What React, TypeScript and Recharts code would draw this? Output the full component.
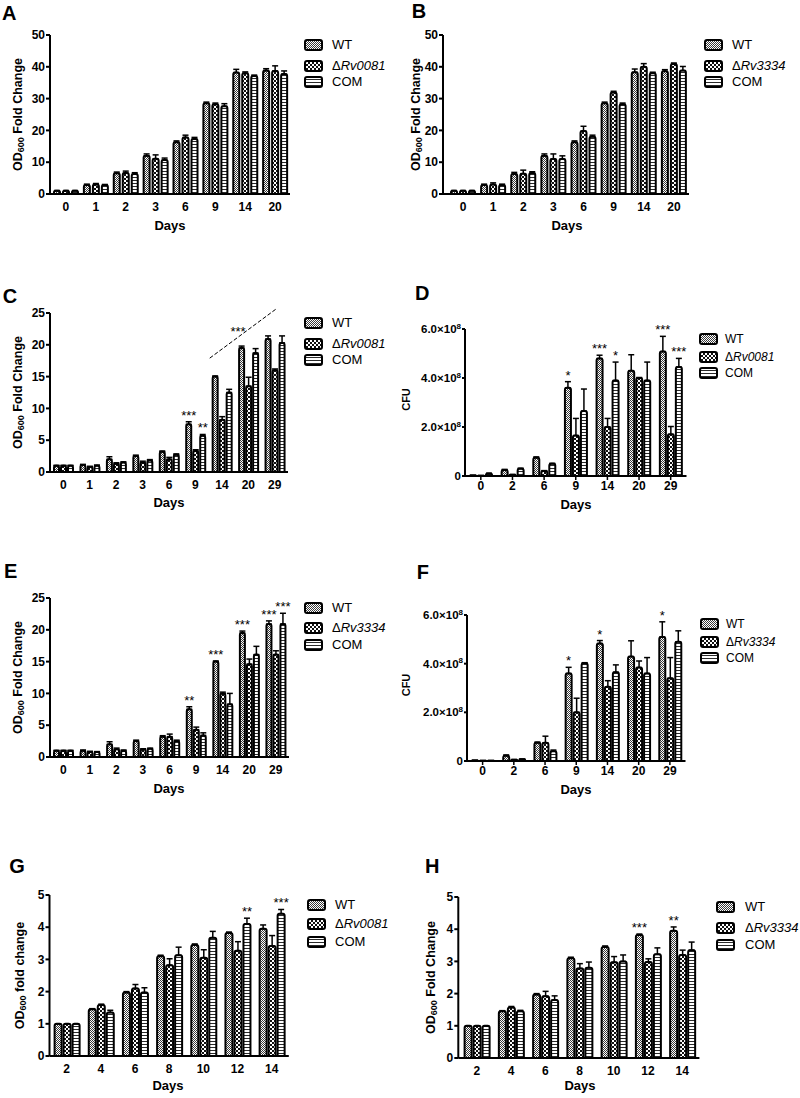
import React from 'react';
import { BarChart, Bar, XAxis, YAxis, ErrorBar, Legend, LabelList, ReferenceLine, ReferenceDot } from 'recharts';

const FONT = '"Liberation Sans", Arial, Helvetica, sans-serif';

// ---------- Panel A ----------
const daysA = ['0', '1', '2', '3', '6', '9', '14', '20'];
const aWT = [1, 2.8, 6.5, 12.0, 16.3, 28.5, 38.2, 38.8];
const aWTErr = [0.1, 0.3, 0.4, 0.6, 0.4, 0.4, 1.0, 0.6];
const aKO = [1, 3.0, 6.6, 11.1, 17.8, 28.2, 38.0, 38.7];
const aKOErr = [0.1, 0.3, 0.6, 1.2, 0.7, 0.4, 0.4, 1.6];
const aCOM = [1, 2.8, 6.3, 10.7, 17.3, 27.6, 37.1, 37.7];
const aCOMErr = [0.1, 0.2, 0.4, 0.6, 0.5, 0.8, 0.3, 1.0];

// ---------- Panel B ----------
const daysB = ['0', '1', '2', '3', '6', '9', '14', '20'];
const bWT = [1, 2.8, 6.3, 12.0, 16.3, 28.5, 38.3, 38.6];
const bWTErr = [0.1, 0.3, 0.5, 0.6, 0.4, 0.4, 1.0, 0.5];
const bKO = [1, 3.0, 6.4, 11.0, 19.8, 31.9, 40.0, 40.9];
const bKOErr = [0.1, 0.5, 1.1, 1.6, 1.5, 0.4, 1.0, 0.3];
const bCOM = [1, 2.8, 6.6, 11.0, 18.0, 28.2, 38.0, 38.8];
const bCOMErr = [0.1, 0.3, 0.4, 1.0, 0.5, 0.4, 0.3, 1.3];

// ---------- Panel C ----------
const daysC = ['0', '1', '2', '3', '6', '9', '14', '20', '29'];
const cWT = [1.0, 1.1, 2.0, 2.5, 3.2, 7.5, 15.0, 19.5, 20.9];
const cWTErr = [0.05, 0.1, 0.4, 0.15, 0.1, 0.4, 0.1, 0.3, 0.5];
const cKO = [1.0, 0.8, 1.3, 1.5, 2.0, 3.3, 8.2, 13.5, 16.0];
const cKOErr = [0.05, 0.1, 0.15, 0.2, 0.3, 0.2, 0.5, 1.4, 0.2];
const cCOM = [1.0, 1.0, 1.5, 1.8, 2.7, 5.7, 12.5, 18.7, 20.3];
const cCOMErr = [0.05, 0.1, 0.1, 0.15, 0.15, 0.2, 0.5, 0.7, 1.1];
const cAnnWT = ['', '', '', '', '', '***', '', '', ''];
const cAnnCOM = ['', '', '', '', '', '**', '', '', ''];
// dashed significance line of panel C (x in category-index units, y in fold change)
const cLineStart = { x: 6.04, y: 17.9 };
const cLineEnd = { x: 8.54, y: 25.6 };
const cLineLabel = { x: 7.11, y: 22.1, text: '***' };

// ---------- Panel D ----------
const daysD = ['0', '2', '6', '9', '14', '20', '29'];
const dWT = [0.02e8, 0.25e8, 0.75e8, 3.6e8, 4.8e8, 4.3e8, 5.08e8];
const dWTErr = [0.01e8, 0.02e8, 0.03e8, 0.25e8, 0.13e8, 0.65e8, 0.62e8];
const dKO = [0.01e8, 0.05e8, 0.2e8, 1.65e8, 2.0e8, 4.0e8, 1.7e8];
const dKOErr = [0.01e8, 0.01e8, 0.02e8, 0.7e8, 0.35e8, 0.02e8, 0.32e8];
const dCOM = [0.1e8, 0.3e8, 0.5e8, 2.65e8, 3.9e8, 3.9e8, 4.45e8];
const dCOMErr = [0.01e8, 0.02e8, 0.02e8, 0.9e8, 0.75e8, 0.75e8, 0.35e8];
const dAnnWT = ['', '', '', '*', '***', '', '***'];
const dAnnCOM = ['', '', '', '', '*', '', '***'];

// ---------- Panel E ----------
const daysE = ['0', '1', '2', '3', '6', '9', '14', '20', '29'];
const eWT = [1.0, 1.0, 2.0, 2.5, 3.2, 7.5, 15.0, 19.5, 20.9];
const eWTErr = [0.05, 0.1, 0.4, 0.15, 0.15, 0.4, 0.1, 0.3, 0.5];
const eKO = [1.0, 0.8, 1.2, 1.2, 3.2, 4.3, 10.0, 14.6, 16.1];
const eKOErr = [0.05, 0.1, 0.2, 0.1, 0.4, 0.4, 0.2, 0.8, 0.6];
const eCOM = [1.0, 0.8, 1.0, 1.3, 2.5, 3.4, 8.3, 16.1, 20.9];
const eCOMErr = [0.05, 0.05, 0.1, 0.1, 0.15, 0.4, 1.7, 1.3, 1.7];
const eAnnWT = ['', '', '', '', '', '**', '***', '***', '***'];
const eAnnCOM = ['', '', '', '', '', '', '', '', '***'];

// ---------- Panel F ----------
const daysF = ['0', '2', '6', '9', '14', '20', '29'];
const fWT = [0.02e8, 0.22e8, 0.75e8, 3.6e8, 4.83e8, 4.29e8, 5.1e8];
const fWTErr = [0.01e8, 0.03e8, 0.03e8, 0.25e8, 0.12e8, 0.65e8, 0.62e8];
const fKO = [0.01e8, 0.05e8, 0.75e8, 2.0e8, 3.05e8, 3.84e8, 3.4e8];
const fKOErr = [0.01e8, 0.01e8, 0.27e8, 0.58e8, 0.25e8, 0.27e8, 0.85e8];
const fCOM = [0.01e8, 0.07e8, 0.4e8, 4.02e8, 3.65e8, 3.6e8, 4.9e8];
const fCOMErr = [0.01e8, 0.01e8, 0.05e8, 0.02e8, 0.3e8, 0.65e8, 0.45e8];
const fAnnWT = ['', '', '', '*', '*', '', '*'];

// ---------- Panel G ----------
const daysG = ['2', '4', '6', '8', '10', '12', '14'];
const gWT = [1, 1.45, 1.97, 3.1, 3.45, 3.82, 3.95];
const gWTErr = [0, 0.02, 0.03, 0.03, 0.03, 0.03, 0.12];
const gKO = [1, 1.58, 2.1, 2.82, 3.05, 3.27, 3.42];
const gKOErr = [0, 0.03, 0.12, 0.2, 0.25, 0.28, 0.32];
const gCOM = [1, 1.35, 1.97, 3.13, 3.67, 4.1, 4.42];
const gCOMErr = [0, 0.07, 0.15, 0.25, 0.2, 0.18, 0.13];
const gAnnCOM = ['', '', '', '', '', '**', '***'];

// ---------- Panel H ----------
const daysH = ['2', '4', '6', '8', '10', '12', '14'];
const hWT = [1, 1.45, 1.97, 3.1, 3.45, 3.82, 3.95];
const hWTErr = [0, 0.02, 0.03, 0.03, 0.03, 0.03, 0.12];
const hKO = [1, 1.57, 1.92, 2.78, 2.97, 2.98, 3.2];
const hKOErr = [0, 0.03, 0.15, 0.15, 0.18, 0.1, 0.15];
const hCOM = [1, 1.45, 1.8, 2.8, 3.0, 3.22, 3.35];
const hCOMErr = [0, 0.03, 0.13, 0.18, 0.2, 0.2, 0.25];
const hAnnWT = ['', '', '', '', '', '***', '**'];

const odTicks25 = [0, 5, 10, 15, 20, 25];
const odTicks50 = [0, 10, 20, 30, 40, 50];
const odTicks5 = [0, 1, 2, 3, 4, 5];
const cfuTicks = [0, 2e8, 4e8, 6e8];

type Cfg = {
  key: string;
  left: number; top: number; width: number; height: number;
  yAxisX: number; bandStart: number; bandEnd: number; yTopPx: number; yZeroPx: number;
  domain: [number, number]; ticks: number[];
  cats: string[];
  wt: number[]; wtErr: number[]; ko: number[]; koErr: number[]; com: number[]; comErr: number[];
  annWT?: string[]; annKO?: string[]; annCOM?: string[];
  koName: string; yKind: 'od' | 'odl' | 'cfu'; yLabelX: number;
  daysX: number; daysY: number;
  legBoxX: number; legTextX: number; legRows: number[]; legFont: number;
  barSize: number; barGap: number; xTickLine: boolean;
  extraC?: boolean;
};

const panels: Cfg[] = [
  {
    key: 'A', left: 0, top: 0, width: 400, height: 240,
    yAxisX: 50, bandStart: 51, bandEnd: 290, yTopPx: 35, yZeroPx: 194,
    domain: [0, 50], ticks: odTicks50, cats: daysA,
    wt: aWT, wtErr: aWTErr, ko: aKO, koErr: aKOErr, com: aCOM, comErr: aCOMErr,
    koName: 'Rv0081', yKind: 'od', yLabelX: 18, daysX: 170, daysY: 225,
    legBoxX: 305, legTextX: 332, legRows: [45, 66, 82], legFont: 13,
    barSize: 6, barGap: 3, xTickLine: false,
  },
  {
    key: 'B', left: 400, top: 0, width: 400, height: 240,
    yAxisX: 443, bandStart: 448, bandEnd: 689, yTopPx: 35, yZeroPx: 194,
    domain: [0, 50], ticks: odTicks50, cats: daysB,
    wt: bWT, wtErr: bWTErr, ko: bKO, koErr: bKOErr, com: bCOM, comErr: bCOMErr,
    koName: 'Rv3334', yKind: 'od', yLabelX: 416, daysX: 567, daysY: 225,
    legBoxX: 705, legTextX: 732, legRows: [45, 66, 82], legFont: 13,
    barSize: 6, barGap: 3, xTickLine: false,
  },
  {
    key: 'C', left: 0, top: 270, width: 400, height: 250,
    yAxisX: 50, bandStart: 50, bandEnd: 288, yTopPx: 313, yZeroPx: 472,
    domain: [0, 25], ticks: odTicks25, cats: daysC,
    wt: cWT, wtErr: cWTErr, ko: cKO, koErr: cKOErr, com: cCOM, comErr: cCOMErr,
    annWT: cAnnWT, annCOM: cAnnCOM,
    koName: 'Rv0081', yKind: 'od', yLabelX: 18, daysX: 169, daysY: 502,
    legBoxX: 305, legTextX: 332, legRows: [323, 344, 360], legFont: 13,
    barSize: 5, barGap: 2, xTickLine: false, extraC: true,
  },
  {
    key: 'D', left: 400, top: 270, width: 400, height: 250,
    yAxisX: 465, bandStart: 465, bandEnd: 686.5, yTopPx: 329, yZeroPx: 476,
    domain: [0, 6e8], ticks: cfuTicks, cats: daysD,
    wt: dWT, wtErr: dWTErr, ko: dKO, koErr: dKOErr, com: dCOM, comErr: dCOMErr,
    annWT: dAnnWT, annCOM: dAnnCOM,
    koName: 'Rv0081', yKind: 'cfu', yLabelX: 405.5, daysX: 576, daysY: 504,
    legBoxX: 700, legTextX: 725, legRows: [339, 357, 373], legFont: 12,
    barSize: 6, barGap: 2, xTickLine: true,
  },
  {
    key: 'E', left: 0, top: 550, width: 400, height: 260,
    yAxisX: 50, bandStart: 50, bandEnd: 289, yTopPx: 598, yZeroPx: 757,
    domain: [0, 25], ticks: odTicks25, cats: daysE,
    wt: eWT, wtErr: eWTErr, ko: eKO, koErr: eKOErr, com: eCOM, comErr: eCOMErr,
    annWT: eAnnWT, annCOM: eAnnCOM,
    koName: 'Rv3334', yKind: 'od', yLabelX: 18, daysX: 169, daysY: 788,
    legBoxX: 305, legTextX: 332, legRows: [608, 628, 645], legFont: 13,
    barSize: 5, barGap: 2, xTickLine: false,
  },
  {
    key: 'F', left: 400, top: 550, width: 400, height: 260,
    yAxisX: 467, bandStart: 467, bandEnd: 685.5, yTopPx: 615, yZeroPx: 761,
    domain: [0, 6e8], ticks: cfuTicks, cats: daysF,
    wt: fWT, wtErr: fWTErr, ko: fKO, koErr: fKOErr, com: fCOM, comErr: fCOMErr,
    annWT: fAnnWT,
    koName: 'Rv3334', yKind: 'cfu', yLabelX: 406, daysX: 576, daysY: 789,
    legBoxX: 701, legTextX: 726, legRows: [624, 642, 658], legFont: 12,
    barSize: 6, barGap: 2, xTickLine: true,
  },
  {
    key: 'G', left: 0, top: 840, width: 400, height: 258,
    yAxisX: 49.5, bandStart: 49.6, bandEnd: 288.8, yTopPx: 895, yZeroPx: 1056,
    domain: [0, 5], ticks: odTicks5, cats: daysG,
    wt: gWT, wtErr: gWTErr, ko: gKO, koErr: gKOErr, com: gCOM, comErr: gCOMErr,
    annCOM: gAnnCOM,
    koName: 'Rv0081', yKind: 'odl', yLabelX: 20, daysX: 168, daysY: 1085,
    legBoxX: 308, legTextX: 335, legRows: [905, 924, 942], legFont: 13,
    barSize: 7, barGap: 2, xTickLine: false,
  },
  {
    key: 'H', left: 400, top: 840, width: 400, height: 258,
    yAxisX: 458.3, bandStart: 459.6, bandEnd: 699.4, yTopPx: 897, yZeroPx: 1058,
    domain: [0, 5], ticks: odTicks5, cats: daysH,
    wt: hWT, wtErr: hWTErr, ko: hKO, koErr: hKOErr, com: hCOM, comErr: hCOMErr,
    annWT: hAnnWT,
    koName: 'Rv3334', yKind: 'od', yLabelX: 431, daysX: 580, daysY: 1085,
    legBoxX: 717, legTextX: 745, legRows: [907, 928, 945], legFont: 13,
    barSize: 7, barGap: 2, xTickLine: false,
  },
];

const panelLetters = [
  { t: 'A', x: 2, y: 19.5 },
  { t: 'B', x: 411.7, y: 18.3 },
  { t: 'C', x: 2.7, y: 303 },
  { t: 'D', x: 415, y: 300 },
  { t: 'E', x: 4, y: 578 },
  { t: 'F', x: 416.7, y: 579 },
  { t: 'G', x: 9.3, y: 873 },
  { t: 'H', x: 425, y: 873 },
];

function Patterns() {
  return (
    <svg width={0} height={0} style={{ position: 'absolute', left: 0, top: 0 }}>
      <defs>
        <pattern id="patWT" patternUnits="userSpaceOnUse" width={2} height={2}>
          <rect width={2} height={2} fill="#fff" />
          <rect width={1} height={1} fill="#3a3a3a" />
          <rect x={1} y={1} width={1} height={1} fill="#3a3a3a" />
        </pattern>
        <pattern id="patKO" patternUnits="userSpaceOnUse" width={4} height={4}>
          <rect width={4} height={4} fill="#111" />
          <rect width={2} height={2} fill="#fff" />
          <rect x={2} y={2} width={2} height={2} fill="#fff" />
        </pattern>
        <pattern id="patCOM" patternUnits="userSpaceOnUse" width={3} height={3}>
          <rect width={3} height={3} fill="#fff" />
          <rect width={3} height={1} fill="#2a2a2a" />
        </pattern>
      </defs>
    </svg>
  );
}

const YLabel = (props: any) => {
  const { lx, cy, kind } = props;
  const common = {
    x: lx, y: cy, transform: `rotate(-90 ${lx} ${cy})`, textAnchor: 'middle' as const,
    dominantBaseline: 'central' as const, fontWeight: 700, fontFamily: FONT, fill: '#000',
  };
  if (kind === 'cfu') return <text {...common} fontSize={11}>CFU</text>;
  const rest = kind === 'odl' ? ' fold change' : ' Fold Change';
  return (
    <text {...common} fontSize={12.5}>
      OD<tspan dy={3} fontSize={9}>600</tspan>
      <tspan dy={-3}>{rest}</tspan>
    </text>
  );
};

const DaysLabel = (props: any) => {
  const { dx, dy } = props;
  return (
    <text x={dx} y={dy} textAnchor="middle" dominantBaseline="central" fontSize={13} fontWeight={700} fontFamily={FONT} fill="#000">
      Days
    </text>
  );
};

const CfuTick = (props: any) => {
  const { x, y, payload } = props;
  const v = payload.value as number;
  const common = { fontFamily: FONT, fontWeight: 700, fill: '#000' };
  if (v === 0) return <text x={x} y={y} dy={4} textAnchor="end" fontSize={11.5} {...common}>0</text>;
  return (
    <text x={x} y={y} dy={4} textAnchor="end" fontSize={11.5} {...common}>
      {(v / 1e8).toFixed(1)}×10<tspan dy={-4.5} fontSize={8}>8</tspan>
    </text>
  );
};

const makeAnn = (vals: number[], errs: number[]) => (p: any) => {
  const { x, y, width, height, value, index } = p;
  if (!value || index === undefined) return null;
  const v = vals[index];
  const e = errs[index];
  const pxPer = v ? height / v : 0;
  const top = y - e * pxPer;
  return (
    <text x={x + width / 2} y={top - 2} textAnchor="middle" fontSize={13} fontFamily={FONT} fill="#000">
      {value}
    </text>
  );
};

function LegendBox({ cfg }: { cfg: Cfg }) {
  const items: [string, React.ReactNode][] = [
    ['patWT', 'WT'],
    ['patKO', <span key="k">Δ<i>{cfg.koName}</i></span>],
    ['patCOM', 'COM'],
  ];
  const lh = Math.round(cfg.legFont * 1.2);
  return (
    <div style={{ position: 'relative', width: cfg.width, height: cfg.height, fontFamily: FONT, fontSize: cfg.legFont, color: '#000' }}>
      {items.map(([p, lab], i) => {
        const cy = cfg.legRows[i] - cfg.top;
        return (
          <React.Fragment key={i}>
            <svg style={{ position: 'absolute', left: cfg.legBoxX - cfg.left - 1, top: cy - 6 }} width={20} height={13}>
              <rect x={1} y={1} width={17} height={10} rx={2} fill={`url(#${p})`} stroke="#000" strokeWidth={2} />
            </svg>
            <span style={{ position: 'absolute', left: cfg.legTextX - cfg.left, top: cy - lh / 2, lineHeight: `${lh}px`, whiteSpace: 'nowrap' }}>
              {lab}
            </span>
          </React.Fragment>
        );
      })}
    </div>
  );
}

function Panel({ cfg }: { cfg: Cfg }) {
  const data = cfg.cats.map((c, i) => ({
    day: c,
    xi: i + 0.5,
    wt: cfg.wt[i], ko: cfg.ko[i], com: cfg.com[i],
    ewt: [0, cfg.wtErr[i]], eko: [0, cfg.koErr[i]], ecom: [0, cfg.comErr[i]],
    awt: cfg.annWT ? cfg.annWT[i] : '',
    ako: cfg.annKO ? cfg.annKO[i] : '',
    acom: cfg.annCOM ? cfg.annCOM[i] : '',
  }));
  const XH = 40;
  const margin = {
    top: cfg.yTopPx - cfg.top,
    right: cfg.left + cfg.width - cfg.bandEnd,
    bottom: cfg.top + cfg.height - cfg.yZeroPx - XH,
    left: 0,
  };
  const padLeft = cfg.bandStart - cfg.yAxisX;
  const tickStyle = { fill: '#000', fontSize: 12, fontWeight: 700, fontFamily: FONT };
  const barProps = { stroke: '#000', strokeWidth: 2, radius: [2, 2, 0, 0] as [number, number, number, number], isAnimationActive: false };
  const ebProps = { width: 3, stroke: '#000', strokeWidth: 1.5, direction: 'y' as const };
  const cy = (cfg.yTopPx + cfg.yZeroPx) / 2 - cfg.top;
  return (
    <div style={{ position: 'absolute', left: cfg.left, top: cfg.top, width: cfg.width, height: cfg.height }}>
      <BarChart width={cfg.width} height={cfg.height} data={data} margin={margin} barSize={cfg.barSize} barGap={cfg.barGap}>
        <XAxis
          dataKey="day"
          height={XH}
          interval={0}
          padding={{ left: padLeft, right: 0 }}
          axisLine={{ stroke: '#000', strokeWidth: 2 }}
          tickLine={cfg.xTickLine ? { stroke: '#000', strokeWidth: 1.5 } : false}
          tickSize={4}
          tickMargin={cfg.xTickLine ? 1 : 4}
          tick={tickStyle}
          label={<DaysLabel dx={cfg.daysX - cfg.left} dy={cfg.daysY - cfg.top} />}
        />
        {cfg.extraC && (
          <XAxis
            xAxisId="n"
            dataKey="xi"
            type="number"
            domain={[0, cfg.cats.length]}
            allowDataOverflow
            hide
            padding={{ left: padLeft, right: 0 }}
          />
        )}
        <YAxis
          width={cfg.yAxisX - cfg.left}
          domain={cfg.domain}
          ticks={cfg.ticks}
          allowDataOverflow
          interval={0}
          axisLine={{ stroke: '#000', strokeWidth: 2 }}
          tickLine={{ stroke: '#000', strokeWidth: 2 }}
          tickSize={cfg.yKind === 'cfu' ? 3 : 4}
          tickMargin={1}
          tick={cfg.yKind === 'cfu' ? <CfuTick /> : tickStyle}
          label={<YLabel lx={cfg.yLabelX - cfg.left} cy={cfg.yKind === 'cfu' ? cy - 3 : cy} kind={cfg.yKind} />}
        />
        <Bar dataKey="wt" name="WT" fill="url(#patWT)" {...barProps}>
          <ErrorBar dataKey="ewt" {...ebProps} />
          <LabelList dataKey="awt" content={makeAnn(cfg.wt, cfg.wtErr)} />
        </Bar>
        <Bar dataKey="ko" name={'Δ' + cfg.koName} fill="url(#patKO)" {...barProps}>
          <ErrorBar dataKey="eko" {...ebProps} />
          <LabelList dataKey="ako" content={makeAnn(cfg.ko, cfg.koErr)} />
        </Bar>
        <Bar dataKey="com" name="COM" fill="url(#patCOM)" {...barProps}>
          <ErrorBar dataKey="ecom" {...ebProps} />
          <LabelList dataKey="acom" content={makeAnn(cfg.com, cfg.comErr)} />
        </Bar>
        {cfg.extraC && (
          <ReferenceLine
            xAxisId="n"
            segment={[cLineStart, cLineEnd]}
            ifOverflow="visible"
            stroke="#000"
            strokeWidth={1}
            strokeDasharray="4 2"
          />
        )}
        {cfg.extraC && (
          <ReferenceDot
            xAxisId="n"
            x={cLineLabel.x}
            y={cLineLabel.y}
            r={1}
            fill="none"
            stroke="none"
            ifOverflow="visible"
            label={{ value: cLineLabel.text, position: 'center', fontSize: 13, fill: '#000', fontFamily: FONT }}
          />
        )}
        <Legend
          layout="horizontal"
          verticalAlign="middle"
          align="center"
          wrapperStyle={{ left: 0, top: 0, width: cfg.width, height: cfg.height, pointerEvents: 'none' }}
          content={() => <LegendBox cfg={cfg} />}
        />
      </BarChart>
    </div>
  );
}

export default function App() {
  return (
    <div style={{ position: 'absolute', left: 0, top: 0, width: 800, height: 1098, background: '#fff', fontFamily: FONT, overflow: 'hidden' }}>
      <Patterns />
      {panels.map((p) => (
        <Panel key={p.key} cfg={p} />
      ))}
      <svg width={800} height={1098} style={{ position: 'absolute', left: 0, top: 0, pointerEvents: 'none' }}>
        {panelLetters.map((l) => (
          <text key={l.t} x={l.x} y={l.y} fontSize={20} fontWeight={700} fontFamily={FONT} fill="#000">
            {l.t}
          </text>
        ))}
      </svg>
    </div>
  );
}
